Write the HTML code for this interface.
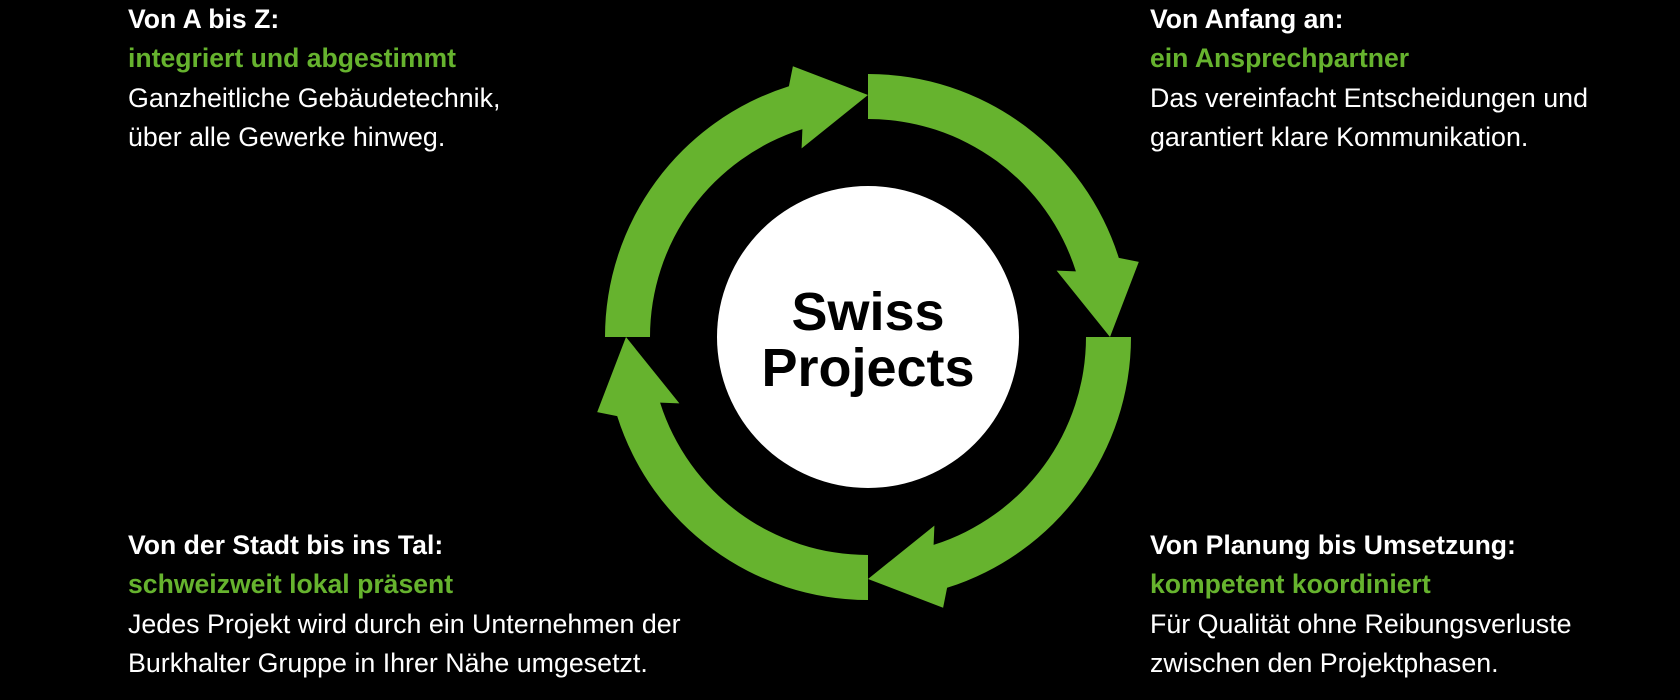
<!DOCTYPE html>
<html><head><meta charset="utf-8"><style>
html,body{margin:0;padding:0;background:#000;width:1680px;height:700px;overflow:hidden}
.t{position:absolute;font-family:"Liberation Sans",sans-serif;color:#fff;font-size:26.8px;line-height:39.3px;white-space:nowrap}
.t b{display:block;font-weight:bold;font-size:26.6px}
.t .g{color:#66b32e}
.t span{display:block}
</style></head><body>
<div class="t" style="left:128px;top:0px"><b>Von A bis Z:</b><b class="g">integriert und abgestimmt</b><span>Ganzheitliche Gebäudetechnik,</span><span>über alle Gewerke hinweg.</span></div>
<div class="t" style="left:1150px;top:0px"><b>Von Anfang an:</b><b class="g">ein Ansprechpartner</b><span>Das vereinfacht Entscheidungen und</span><span>garantiert klare Kommunikation.</span></div>
<div class="t" style="left:128px;top:526px"><b>Von der Stadt bis ins Tal:</b><b class="g">schweizweit lokal präsent</b><span>Jedes Projekt wird durch ein Unternehmen der</span><span>Burkhalter Gruppe in Ihrer Nähe umgesetzt.</span></div>
<div class="t" style="left:1150px;top:526px"><b>Von Planung bis Umsetzung:</b><b class="g">kompetent koordiniert</b><span>Für Qualität ohne Reibungsverluste</span><span>zwischen den Projektphasen.</span></div>
<svg width="1680" height="700" style="position:absolute;left:0;top:0" id="s">
<circle cx="868" cy="337" r="151" fill="#fff"/>
<text x="868" y="330" text-anchor="middle" font-family="Liberation Sans,sans-serif" font-weight="bold" font-size="54" fill="#000">Swiss</text>
<text x="868" y="386" text-anchor="middle" font-family="Liberation Sans,sans-serif" font-weight="bold" font-size="54" fill="#000">Projects</text>
</svg>
<script>
var s=document.getElementById('s'),cx=868,cy=337;
function P(r,a){a=a*Math.PI/180;return (cx+r*Math.sin(a)).toFixed(1)+','+(cy-r*Math.cos(a)).toFixed(1);}
var ro=263,ri=218;
[270,0,90,180].forEach(function(t){
 var tip=t+90,e=tip-17.5;
 var d='M'+P(ro,t)+' A'+ro+','+ro+' 0 0 1 '+P(ro,e)+' L'+P(281,tip-15.5)+' L'+P(242,tip)+' L'+P(200,tip-19.4)+' L'+P(ri,e)+' A'+ri+','+ri+' 0 0 0 '+P(ri,t)+' Z';
 var p=document.createElementNS('http://www.w3.org/2000/svg','path');
 p.setAttribute('d',d);p.setAttribute('fill','#66b32e');s.insertBefore(p,s.firstChild);
});
</script>
</body></html>
